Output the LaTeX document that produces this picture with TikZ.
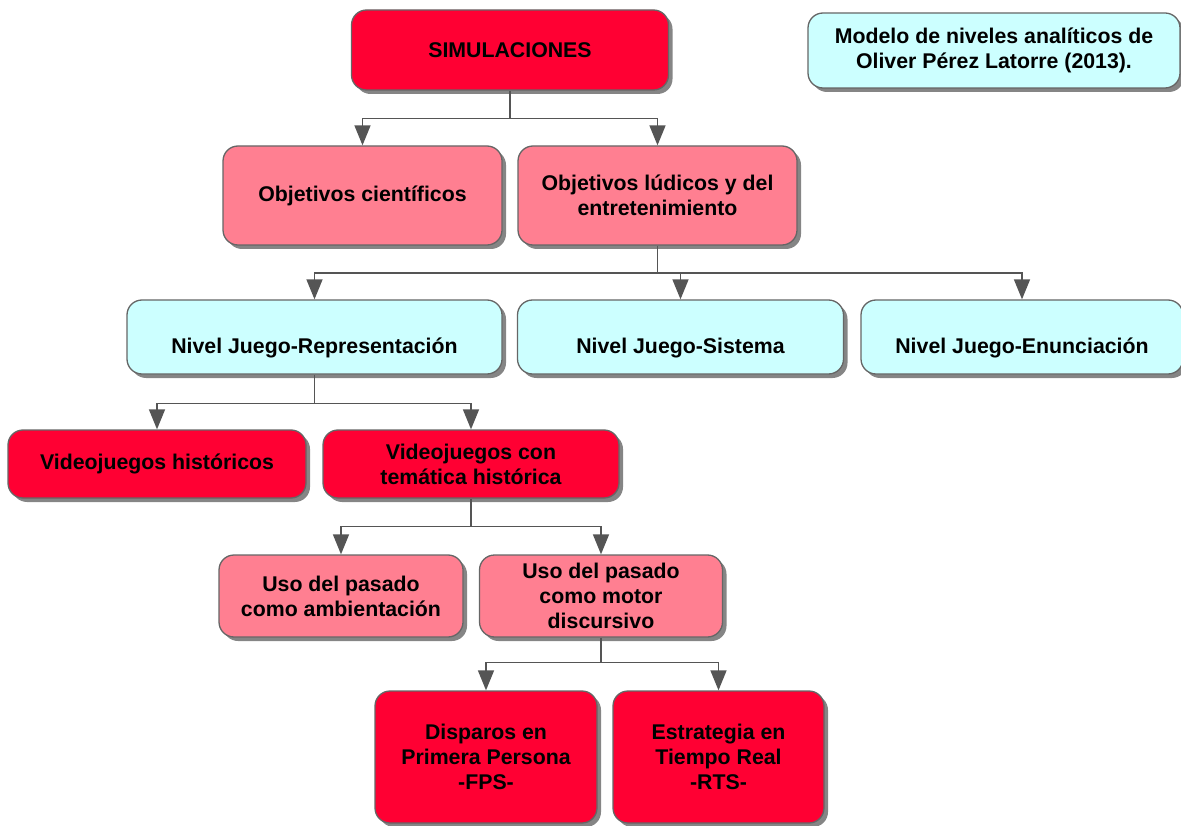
\documentclass[tikz,border=0pt]{standalone}
\usepackage{fontspec}
\setmainfont{Liberation Sans}
\usetikzlibrary{arrows.meta,shadows}
\definecolor{cRed}{HTML}{FF0033}
\definecolor{cPink}{HTML}{FF7F91}
\definecolor{cCyan}{HTML}{CCFFFF}
\definecolor{cEdge}{HTML}{666666}
\definecolor{cLine}{HTML}{555555}
\definecolor{cShadow}{HTML}{858585}
\begin{document}
\begin{tikzpicture}[x=1pt,y=-1pt,
  box/.style={draw=cEdge, line width=1.3pt, rounded corners=15pt, inner sep=0pt,
    align=center, font=\fontsize{21.3}{25}\selectfont\bfseries,
    drop shadow={opacity=1, fill=cShadow, shadow xshift=4pt, shadow yshift=-4pt}},
  redbox/.style={box, fill=cRed},
  pinkbox/.style={box, fill=cPink},
  cyanbox/.style={box, fill=cCyan},
  lowtext/.style={label={[font=\fontsize{21.3}{25}\selectfont\bfseries, yshift=-11pt]center:#1}},
  trunk/.style={draw=cLine, line width=1.5pt},
  conn/.style={draw=cLine, line width=1.5pt, -{Triangle[width=16pt,length=20pt]}}]
\useasboundingbox (0,0) rectangle (1181,826);

\node[redbox, minimum width=317pt, minimum height=80pt] (sim) at (510,50) {SIMULACIONES};
\node[cyanbox, minimum width=372pt, minimum height=75pt] (mod) at (994,50.5) {Modelo de niveles analíticos de\\Oliver Pérez Latorre (2013).};

\node[pinkbox, minimum width=279pt, minimum height=99pt] (objc) at (362.5,195.5) {Objetivos científicos};
\node[pinkbox, minimum width=279pt, minimum height=99pt] (objl) at (657.5,195.5) {Objetivos lúdicos y del\\entretenimiento};

\node[cyanbox, minimum width=375pt, minimum height=74pt, lowtext={Nivel Juego-Representación}] (rep) at (314.5,337) {};
\node[cyanbox, minimum width=326pt, minimum height=74pt, lowtext={Nivel Juego-Sistema}] (sis) at (680.5,337) {};
\node[cyanbox, minimum width=322pt, minimum height=74pt, lowtext={Nivel Juego-Enunciación}] (enu) at (1022,337) {};

\node[redbox, minimum width=298pt, minimum height=68pt] (vh) at (157,464) {Videojuegos históricos};
\node[redbox, minimum width=296pt, minimum height=68pt] (vt) at (471,464) {Videojuegos con\\temática histórica};

\node[pinkbox, minimum width=244pt, minimum height=82pt] (ua) at (341,596) {Uso del pasado\\como ambientación};
\node[pinkbox, minimum width=243pt, minimum height=82pt] (um) at (601,596) {Uso del pasado\\como motor\\discursivo};

\node[redbox, minimum width=222pt, minimum height=132pt] (fps) at (486,757) {Disparos en\\Primera Persona\\-FPS-};
\node[redbox, minimum width=211pt, minimum height=132pt] (rts) at (718.5,757) {Estrategia en\\Tiempo Real\\-RTS-};

\draw[trunk] (sim.south) -- ++(0,28) coordinate (j1);
\draw[conn] (j1) -| (objc.north);
\draw[conn] (j1) -| (objl.north);

\draw[trunk] (objl.south) -- ++(0,27.5) coordinate (j2);
\draw[conn] (j2) -| (rep.north);
\draw[conn] (j2) -| (sis.north);
\draw[conn] (j2) -| (enu.north);

\draw[trunk] (rep.south) -- ++(0,29) coordinate (j3);
\draw[conn] (j3) -| (vh.north);
\draw[conn] (j3) -| (vt.north);

\draw[trunk] (vt.south) -- ++(0,28) coordinate (j4);
\draw[conn] (j4) -| (ua.north);
\draw[conn] (j4) -| (um.north);

\draw[trunk] (um.south) -- ++(0,25) coordinate (j5);
\draw[conn] (j5) -| (fps.north);
\draw[conn] (j5) -| (rts.north);
\end{tikzpicture}
\end{document}
